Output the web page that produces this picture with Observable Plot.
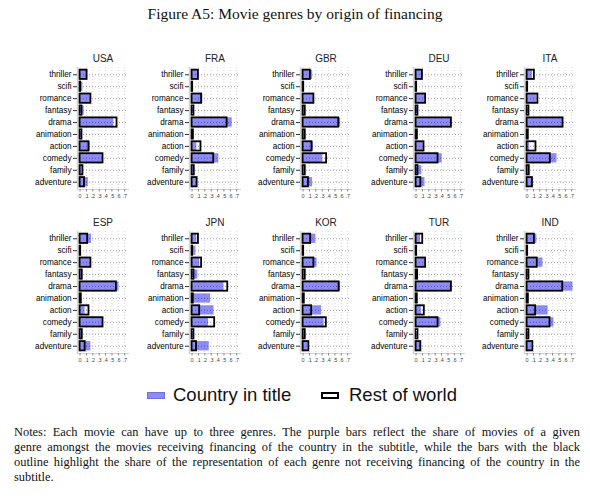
<!DOCTYPE html>
<html><head><meta charset="utf-8">
<script src="https://cdn.jsdelivr.net/npm/d3@7"></script>
<script src="https://cdn.jsdelivr.net/npm/@observablehq/plot@0.6"></script>
<style>
body{margin:0;background:#fff;}
#wrap{position:relative;width:590px;height:498px;overflow:hidden;background:#fff;}
.panel{position:absolute;}
#title{position:absolute;left:0;top:5px;width:590px;text-align:center;font-family:"Liberation Serif",serif;font-size:15.5px;color:#111;}
.sw{position:absolute;box-sizing:border-box;}
.lg{position:absolute;font-family:"Liberation Sans",Arial,sans-serif;font-size:18.5px;line-height:22px;color:#111;white-space:nowrap;}
.note{position:absolute;left:14px;width:566px;font-family:"Liberation Serif",serif;font-size:12.4px;line-height:15px;color:#111;text-align:justify;text-align-last:justify;white-space:nowrap;}
</style></head>
<body><div id="wrap">
<div id="title">Figure A5: Movie genres by origin of financing</div>
</div>
<script>
const genres = ["thriller","scifi","romance","fantasy","drama","animation","action","comedy","family","adventure"];
const xTicks = [0,0.1,0.2,0.3,0.4,0.5,0.6,0.7];

const shareUSA = [0.12,0.045,0.16,0.065,0.53,0.02,0.16,0.35,0.03,0.13];
const restUSA  = [0.11,0.01,0.17,0.03,0.58,0.03,0.14,0.36,0.045,0.07];
const shareFRA = [0.09,0.005,0.17,0.02,0.63,0.035,0.075,0.42,0.02,0.07];
const restFRA  = [0.10,0.01,0.15,0.03,0.55,0.02,0.14,0.34,0.035,0.08];
const shareGBR = [0.15,0.025,0.16,0.03,0.59,0.03,0.165,0.31,0.02,0.15];
const restGBR  = [0.115,0.01,0.17,0.035,0.56,0.035,0.14,0.37,0.035,0.085];
const shareDEU = [0.095,0.02,0.14,0.035,0.55,0.035,0.11,0.41,0.09,0.14];
const restDEU  = [0.10,0.01,0.15,0.03,0.555,0.02,0.125,0.345,0.03,0.075];
const shareITA = [0.085,0.005,0.15,0.02,0.56,0.01,0.04,0.47,0.02,0.07];
const restITA  = [0.115,0.01,0.17,0.03,0.565,0.02,0.14,0.365,0.035,0.085];
const shareESP = [0.18,0.005,0.16,0.02,0.61,0.01,0.08,0.35,0.02,0.17];
const restESP  = [0.12,0.01,0.17,0.035,0.57,0.02,0.14,0.36,0.035,0.08];
const shareJPN = [0.075,0.06,0.12,0.09,0.50,0.29,0.345,0.26,0.02,0.27];
const restJPN  = [0.10,0.01,0.15,0.03,0.56,0.02,0.12,0.355,0.03,0.07];
const shareKOR = [0.20,0.005,0.22,0.02,0.59,0.01,0.29,0.33,0.03,0.07];
const restKOR  = [0.12,0.01,0.17,0.035,0.565,0.02,0.135,0.365,0.035,0.09];
const shareTUR = [0.07,0.005,0.14,0.01,0.55,0.01,0.085,0.39,0.01,0.07];
const restTUR  = [0.105,0.01,0.15,0.025,0.555,0.02,0.13,0.345,0.03,0.075];
const shareIND = [0.155,0.005,0.25,0.02,0.72,0.03,0.33,0.42,0.02,0.07];
const restIND  = [0.115,0.01,0.16,0.03,0.56,0.02,0.135,0.36,0.03,0.09];

const countries = ["USA","FRA","GBR","DEU","ITA","ESP","JPN","KOR","TUR","IND"];
const shares = [shareUSA,shareFRA,shareGBR,shareDEU,shareITA,shareESP,shareJPN,shareKOR,shareTUR,shareIND];
const rests  = [restUSA,restFRA,restGBR,restDEU,restITA,restESP,restJPN,restKOR,restTUR,restIND];

const origins = [80,192,303,416,527];
const rowTops = [44.8,209];
const fmt = d => d === 0 ? "0" : d3.format(".1f")(d).replace(/^0/, "");
const wrap = document.getElementById("wrap");

countries.forEach((name, k) => {
  const data = genres.map((g, i) => ({genre: g, share: shares[k][i], rest: rests[k][i]}));
  const chart = Plot.plot({
    width: 112, height: 160,
    marginLeft: 56, marginRight: 5, marginTop: 22, marginBottom: 16,
    style: {fontFamily: "Liberation Sans, Arial, sans-serif", background: "transparent", overflow: "visible"},
    x: {domain: [-0.04, 0.76]},
    y: {domain: genres, padding: 0.22, round: false},
    marks: [
      Plot.gridX({ticks: xTicks, stroke: "#d4d4d4", strokeOpacity: 1, strokeDasharray: "1,2"}),
      Plot.gridY({stroke: "#a0a0a0", strokeOpacity: 1, strokeDasharray: "1,2"}),
      Plot.frame({anchor: "left", stroke: "#d4d4d4", strokeWidth: 1.6}),
      Plot.frame({anchor: "bottom", stroke: "#d4d4d4", strokeWidth: 1}),
      Plot.barX(data, {x: "share", y: "genre", fill: "rgb(0,0,230)", fillOpacity: 0.45}),
      Plot.barX(data, {x: "rest", y: "genre", fill: "none", stroke: "black", strokeWidth: 1.8}),
      Plot.axisY({tickSize: 4, tickPadding: 2, fontSize: 8.2, label: null, stroke: "#333", fill: "#000"}),
      Plot.axisX({ticks: xTicks, tickSize: 2.5, tickPadding: 2.5, fontSize: 5.5, label: null, tickFormat: fmt, stroke: "#888", fill: "#444"}),
      Plot.text([name], {text: d => d, frameAnchor: "top", dy: -9, lineAnchor: "middle", fontSize: 10, fill: "#222"})
    ]
  });
  const col = k % 5, row = Math.floor(k / 5);
  chart.classList.add("panel");
  chart.style.left = (origins[col] - 58.55) + "px";
  chart.style.top = rowTops[row] + "px";
  wrap.appendChild(chart);
});

// legend
const legendItems = [
  {label: "Country in title", swLeft: 147, txLeft: 173, kind: "fill"},
  {label: "Rest of world", swLeft: 321, txLeft: 349, kind: "outline"}
];
legendItems.forEach(it => {
  const sw = document.createElement("div");
  sw.className = "sw";
  sw.style.left = it.swLeft + "px"; sw.style.top = "391.5px";
  sw.style.width = "18px"; sw.style.height = "7.5px";
  if (it.kind === "fill") { sw.style.background = "#8c8cf4"; sw.style.border = "0.8px solid #7070e4"; }
  else { sw.style.background = "#fff"; sw.style.border = "2px solid #000"; }
  wrap.appendChild(sw);
  const tx = document.createElement("div");
  tx.className = "lg"; tx.textContent = it.label;
  tx.style.left = it.txLeft + "px"; tx.style.top = "384px";
  wrap.appendChild(tx);
});

// notes
const noteLines = [
  "Notes: Each movie can have up to three genres.  The purple bars reflect the share of movies of a given",
  "genre amongst the movies receiving financing of the country in the subtitle, while the bars with the black",
  "outline highlight the share of the representation of each genre not receiving financing of the country in the",
  "subtitle."
];
noteLines.forEach((t, i) => {
  const d = document.createElement("div");
  d.className = "note"; d.textContent = t;
  d.style.top = (424.5 + 15 * i) + "px";
  if (i === noteLines.length - 1) d.style.textAlignLast = "left";
  wrap.appendChild(d);
});
</script>
</body></html>
